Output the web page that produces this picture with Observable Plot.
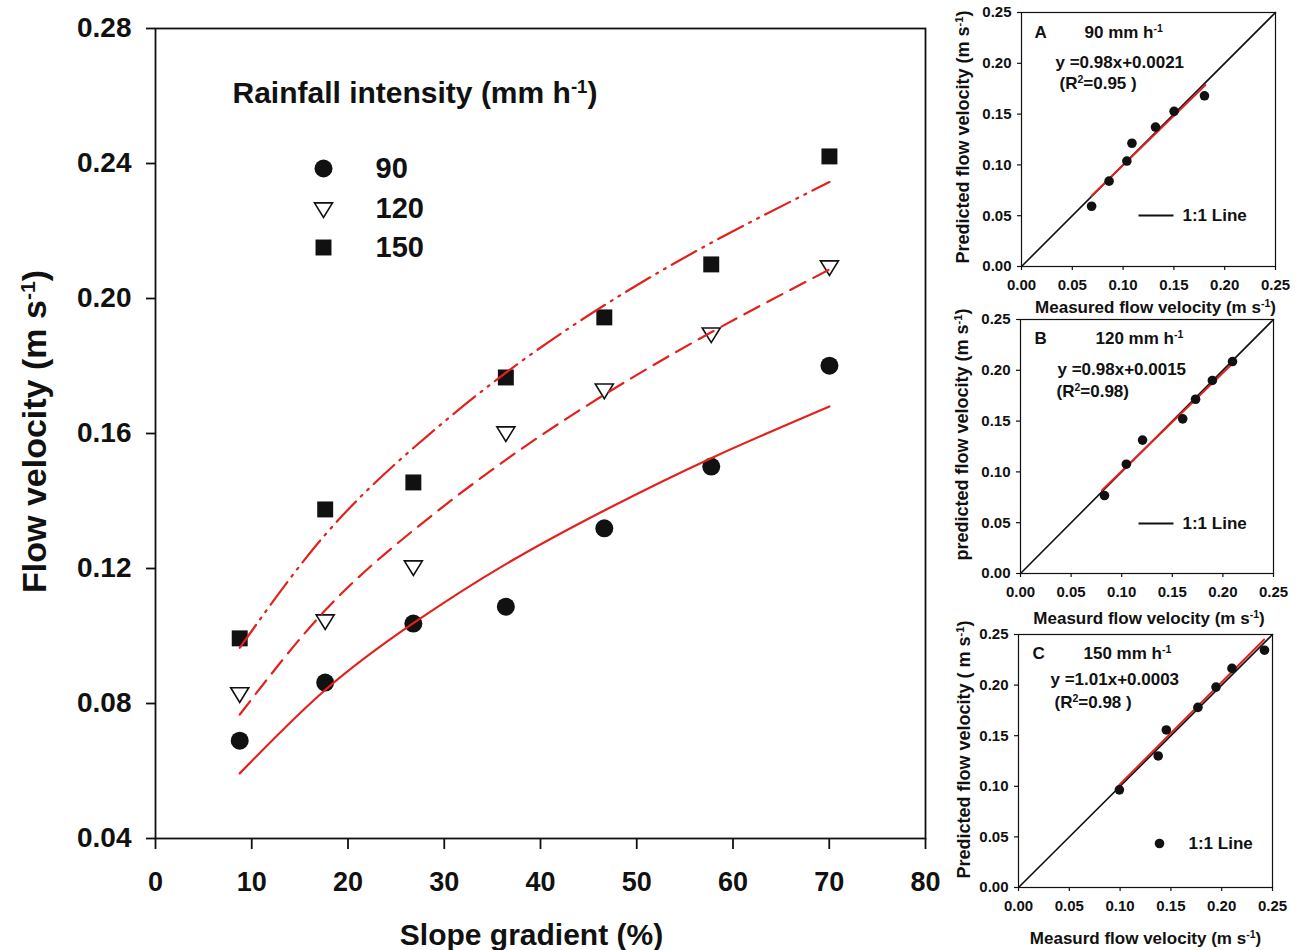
<!DOCTYPE html>
<html><head><meta charset="utf-8">
<script src="https://cdn.jsdelivr.net/npm/d3@7"></script>
<script src="https://cdn.jsdelivr.net/npm/@observablehq/plot@0.6"></script>
<style>
body{margin:0;background:#fff;}
#wrap{position:relative;width:1297px;height:950px;overflow:hidden;background:#fff;font-family:"Liberation Sans",Arial,sans-serif;}
#wrap svg{position:absolute;overflow:visible;}
</style></head><body><div id="wrap"></div>
<script>
// ---------- data ----------
const slopes = [8.75, 17.63, 26.79, 36.40, 46.63, 57.74, 70.02];
const v90  = [0.0690, 0.0862, 0.1037, 0.1087, 0.1319, 0.1502, 0.1801];
const v120 = [0.0830, 0.1046, 0.1206, 0.1603, 0.1730, 0.1896, 0.2095];
const v150 = [0.0993, 0.1375, 0.1455, 0.1766, 0.1944, 0.2101, 0.2421];
const fit90  = [0.0593, 0.0840, 0.1038, 0.1213, 0.1372, 0.1527, 0.1680];
const fit120 = [0.0767, 0.1076, 0.1313, 0.1522, 0.1715, 0.1900, 0.2086];
const fit150 = [0.0965, 0.1300, 0.1557, 0.1780, 0.1980, 0.2165, 0.2345];
const intensities = ["90", "120", "150"];
const xTicks = [0, 10, 20, 30, 40, 50, 60, 70, 80];
const yTicks = [0.04, 0.08, 0.12, 0.16, 0.20, 0.24, 0.28];
const panelTicks = [0, 0.05, 0.10, 0.15, 0.20, 0.25];
const oneToOne = [0, 0.25];
// regression lines in panels (end points)
const regAx = [0.069, 0.181], regAy = [0.0697, 0.1785];
const regBx = [0.0806, 0.2105], regBy = [0.0820, 0.2077];
const regCx = [0.0992, 0.2418], regCy = [0.1013, 0.2450];
const equations = ["y =0.98x+0.0021", "y =0.98x+0.0015", "y =1.01x+0.0003"];
const r2Texts = ["(R^{2}=0.95 )", "(R^{2}=0.98)", "(R^{2}=0.98 )"];

// ---------- styling ----------
const RED = "#e3211c", INK = "#111";
const FONT = '"Liberation Sans", Arial, sans-serif';
const triDown = {draw(ctx, size) { const s = Math.sqrt(size / Math.PI); ctx.moveTo(-s, -0.62 * s); ctx.lineTo(s, -0.62 * s); ctx.lineTo(0, s); ctx.closePath(); }};
const hline = {draw(ctx) { ctx.moveTo(-17.5, 0); ctx.lineTo(17.5, 0); }};
const series = [
  {key: intensities[0], obs: v90,  fit: fit90,  symbol: "circle", fill: INK, stroke: "none", dash: null},
  {key: intensities[1], obs: v120, fit: fit120, symbol: triDown,  fill: "white", stroke: INK, dash: "17,9"},
  {key: intensities[2], obs: v150, fit: fit150, symbol: "square", fill: INK, stroke: "none", dash: "28,7,2,7,2,7"}
];

function applySup(root) {
  root.querySelectorAll("text, tspan").forEach(el => {
    if (el.childElementCount) return;
    const t = el.textContent;
    if (!t.includes("^{")) return;
    el.textContent = "";
    t.split(/\^\{([^}]*)\}/).forEach((p, i) => {
      if (!p) return;
      const ts = document.createElementNS("http://www.w3.org/2000/svg", "tspan");
      ts.textContent = p;
      if (i % 2 === 1) { ts.setAttribute("baseline-shift", "super"); ts.setAttribute("font-size", "62%"); }
      el.appendChild(ts);
    });
  });
}
function place(svg, left, top) {
  svg.style.left = left + "px"; svg.style.top = top + "px";
  applySup(svg);
  document.getElementById("wrap").appendChild(svg);
}
const txt = d => d;
const T = {text: txt, lineAnchor: "middle", fill: INK};

// ---------- main chart ----------
const legendDy = [140, 180, 219];
const mainMarks = [
  Plot.frame({stroke: INK, strokeWidth: 1.8}),
  Plot.axisY({ticks: yTicks, tickFormat: d3.format(".2f"), tickSize: 9, tickPadding: 15, fontSize: 28, strokeWidth: 1.8, label: null}),
  Plot.axisX({ticks: xTicks, tickFormat: d3.format("d"), tickSize: 11, tickPadding: 22, fontSize: 27, strokeWidth: 1.8, label: null}),
  ...series.map(se => Plot.dot(slopes, {x: txt, y: (d, i) => se.obs[i], symbol: se.symbol, r: 9, fill: se.fill, stroke: se.stroke, strokeWidth: 1.6})),
  ...series.map(se => Plot.line(slopes, {x: txt, y: (d, i) => se.fit[i], curve: "natural", stroke: RED, strokeWidth: 2.2, strokeDasharray: se.dash})),
  Plot.text(["Rainfall intensity (mm h^{-1})"], {...T, frameAnchor: "top-left", dx: 77, dy: 65, textAnchor: "start", fontSize: 30}),
  ...series.map((se, i) => Plot.dot([se.key], {frameAnchor: "top-left", dx: 168, dy: legendDy[i], symbol: se.symbol, r: 9, fill: se.fill, stroke: se.stroke, strokeWidth: 1.6})),
  ...series.map((se, i) => Plot.text([se.key], {...T, frameAnchor: "top-left", dx: 220, dy: legendDy[i], textAnchor: "start", fontSize: 29})),
  Plot.text(["Flow velocity (m s^{-1})"], {...T, frameAnchor: "left", dx: -120, dy: -2, rotate: -90, textAnchor: "middle", fontSize: 34}),
  Plot.text(["Slope gradient (%)"], {...T, frameAnchor: "bottom", dx: -9, dy: 97, textAnchor: "middle", fontSize: 30})
];
const main = Plot.plot({
  width: 945, height: 950,
  marginLeft: 155, marginRight: 20, marginTop: 28, marginBottom: 112,
  x: {domain: [0, 80]}, y: {domain: [0.04, 0.28]},
  style: {background: "transparent", fontFamily: FONT, fontWeight: "bold", color: INK, overflow: "visible"},
  marks: mainMarks
});
place(main, 0, 0);

// ---------- validation panels ----------
const panels = [
  {se: series[0], regX: regAx, regY: regAy, letter: "A", title: "90 mm h^{-1}", eq: equations[0], r2: r2Texts[0],
   yLabel: "Predicted flow velocity (m s^{-1})", xLabel: "Measured flow velocity (m s^{-1})", legendDot: false,
   left: 950, top: 0, width: 347, height: 320, mL: 71, mR: 22, mT: 12, mB: 54,
   tdx: 13, tdy: 20, idx: 63, edx: 34, edy: 50, rdx: 38, rdy: 71, ldx: 134.5, ldy: 203, lt: 161,
   yldx: -58, yldy: -3, xldx: 7, xldy: 41},
  {se: series[1], regX: regBx, regY: regBy, letter: "B", title: "120 mm h^{-1}", eq: equations[1], r2: r2Texts[1],
   yLabel: "predicted flow velocity (m s^{-1})", xLabel: "Measurd flow velocity (m s^{-1})", legendDot: false,
   left: 950, top: 305, width: 347, height: 325, mL: 70, mR: 24, mT: 14, mB: 57,
   tdx: 14, tdy: 19, idx: 75, edx: 37, edy: 50, rdx: 36, rdy: 72, ldx: 135.5, ldy: 204, lt: 162,
   yldx: -58, yldy: -13, xldx: 2, xldy: 45},
  {se: series[2], regX: regCx, regY: regCy, letter: "C", title: "150 mm h^{-1}", eq: equations[2], r2: r2Texts[2],
   yLabel: "Predicted flow velocity ( m s^{-1})", xLabel: "Measurd flow velocity (m s^{-1})", legendDot: true,
   left: 950, top: 620, width: 347, height: 330, mL: 68, mR: 25, mT: 14, mB: 63,
   tdx: 14, tdy: 19, idx: 65, edx: 32, edy: 45, rdx: 36, rdy: 68, ldx: 141, ldy: 209, lt: 170,
   yldx: -54, yldy: -9, xldx: 0, xldy: 51}
];
panels.forEach(p => {
  const marks = [
    Plot.frame({stroke: INK, strokeWidth: 1.2}),
    Plot.axisY({ticks: panelTicks, tickFormat: d3.format(".2f"), tickSize: 4, tickPadding: 6, fontSize: 15, strokeWidth: 1.2, label: null}),
    Plot.axisX({ticks: panelTicks, tickFormat: d3.format(".2f"), tickSize: 4, tickPadding: 9, fontSize: 15, strokeWidth: 1.2, label: null}),
    Plot.line(oneToOne, {x: txt, y: txt, stroke: INK, strokeWidth: 1.6}),
    Plot.line(p.regX, {x: txt, y: (d, i) => p.regY[i], stroke: RED, strokeWidth: 2}),
    Plot.dot(p.se.obs, {x: txt, y: (d, i) => p.se.fit[i], r: 4.8, fill: INK}),
    Plot.text([p.letter], {...T, frameAnchor: "top-left", dx: p.tdx, dy: p.tdy, textAnchor: "start", fontSize: 17}),
    Plot.text([p.title], {...T, frameAnchor: "top-left", dx: p.idx, dy: p.tdy, textAnchor: "start", fontSize: 17}),
    Plot.text([p.eq], {...T, frameAnchor: "top-left", dx: p.edx, dy: p.edy, textAnchor: "start", fontSize: 17}),
    Plot.text([p.r2], {...T, frameAnchor: "top-left", dx: p.rdx, dy: p.rdy, textAnchor: "start", fontSize: 17}),
    p.legendDot
      ? Plot.dot(["1:1 Line"], {frameAnchor: "top-left", dx: p.ldx, dy: p.ldy, r: 4.8, fill: INK})
      : Plot.dot(["1:1 Line"], {frameAnchor: "top-left", dx: p.ldx, dy: p.ldy, symbol: hline, r: 5, fill: "none", stroke: INK, strokeWidth: 1.8}),
    Plot.text(["1:1 Line"], {...T, frameAnchor: "top-left", dx: p.lt, dy: p.ldy, textAnchor: "start", fontSize: 17}),
    Plot.text([p.yLabel], {...T, frameAnchor: "bottom-left", dx: p.yldx, dy: p.yldy, rotate: -90, textAnchor: "start", fontSize: 18}),
    Plot.text([p.xLabel], {...T, frameAnchor: "bottom", dx: p.xldx, dy: p.xldy, textAnchor: "middle", fontSize: 17})
  ];
  const svg = Plot.plot({
    width: p.width, height: p.height,
    marginLeft: p.mL, marginRight: p.mR, marginTop: p.mT, marginBottom: p.mB,
    x: {domain: [0, 0.25]}, y: {domain: [0, 0.25]},
    style: {background: "transparent", fontFamily: FONT, fontWeight: "bold", color: INK, overflow: "visible"},
    marks
  });
  place(svg, p.left, p.top);
});
</script></body></html>
